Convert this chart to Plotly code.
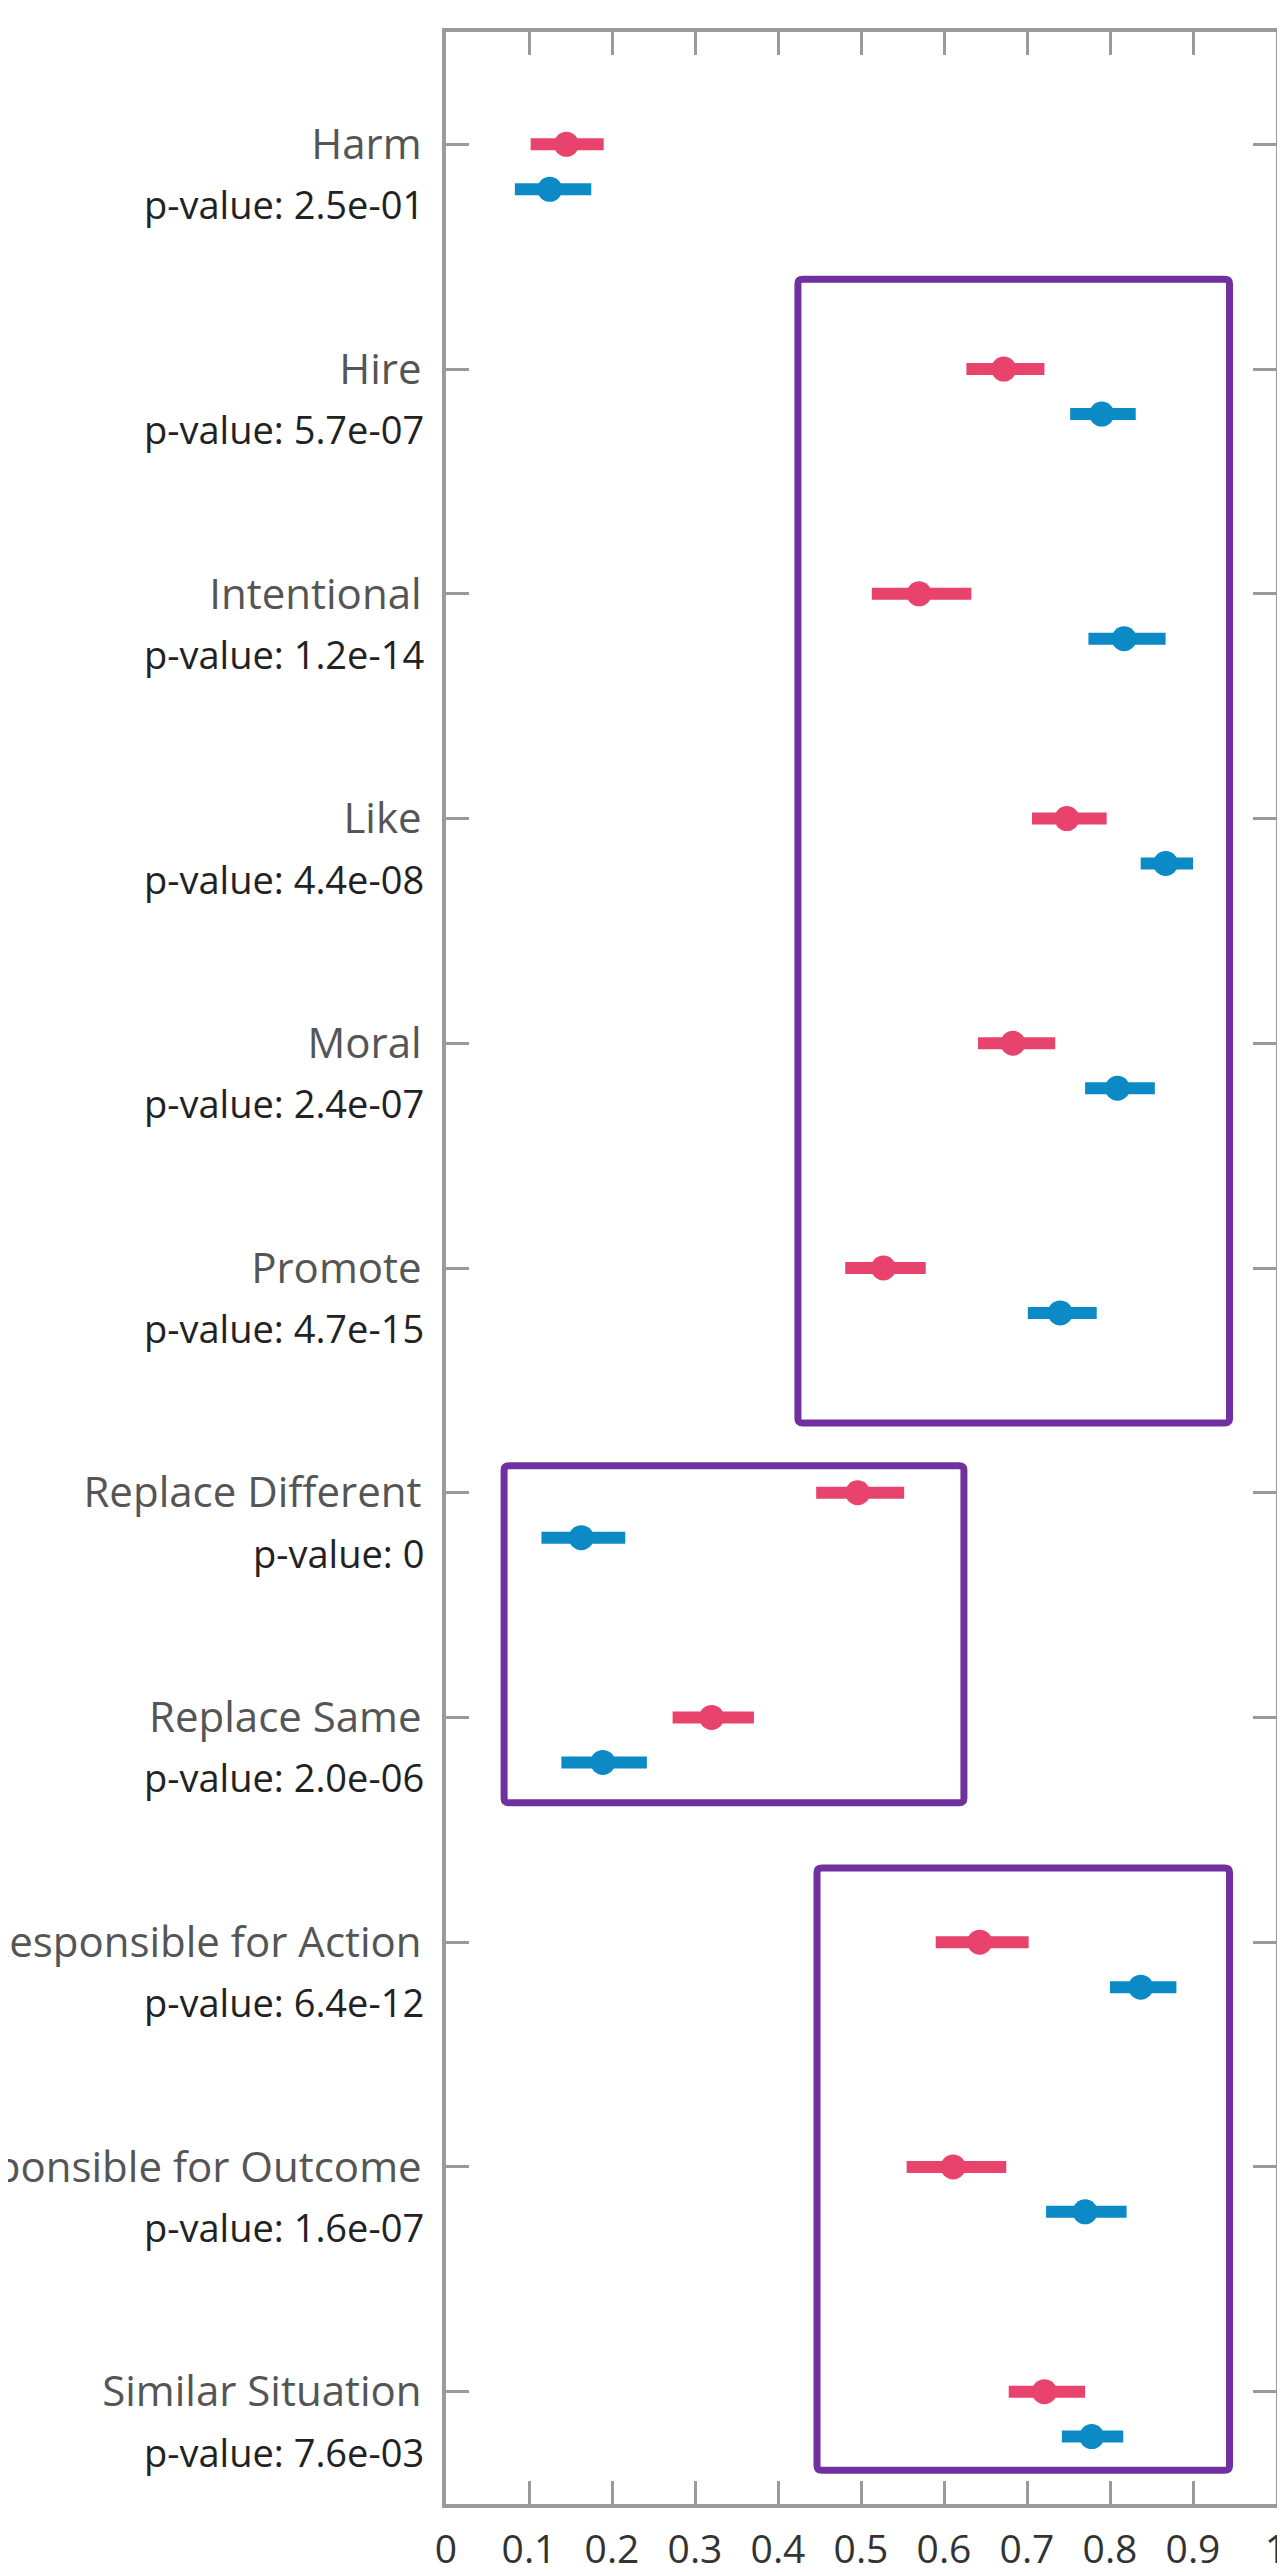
import plotly.graph_objects as go

# ---- data ----
categories = ["Harm", "Hire", "Intentional", "Like", "Moral", "Promote",
              "Replace Different", "Replace Same", "Responsible for Action",
              "Responsible for Outcome", "Similar Situation"]
p_values = ["2.5e-01", "5.7e-07", "1.2e-14", "4.4e-08", "2.4e-07", "4.7e-15",
            "0", "2.0e-06", "6.4e-12", "1.6e-07", "7.6e-03"]

red_mean = [0.145, 0.672, 0.570, 0.748, 0.683, 0.527, 0.496, 0.320, 0.643, 0.611, 0.721]
red_low  = [0.102, 0.627, 0.513, 0.706, 0.641, 0.481, 0.446, 0.273, 0.590, 0.555, 0.678]
red_high = [0.190, 0.721, 0.633, 0.796, 0.734, 0.578, 0.552, 0.371, 0.702, 0.675, 0.770]

blue_mean = [0.125, 0.790, 0.817, 0.867, 0.809, 0.740, 0.163, 0.189, 0.837, 0.770, 0.778]
blue_low  = [0.083, 0.752, 0.774, 0.837, 0.770, 0.701, 0.115, 0.139, 0.800, 0.723, 0.742]
blue_high = [0.175, 0.831, 0.867, 0.900, 0.854, 0.784, 0.216, 0.242, 0.880, 0.820, 0.816]

x_ticks = [0, 0.1, 0.2, 0.3, 0.4, 0.5, 0.6, 0.7, 0.8, 0.9, 1]
x_tick_labels = ["0", "0.1", "0.2", "0.3", "0.4", "0.5", "0.6", "0.7", "0.8", "0.9", "1"]

RED = "#E8436C"
BLUE = "#0B8AC6"
PURPLE = "#7030A0"
AXIS = "#9a9a9a"
FONT = "Open Sans"

idx = list(range(len(categories)))
blue_offset = 0.2

fig = go.Figure()

fig.add_trace(go.Scatter(
    x=red_mean, y=idx, mode="markers",
    marker=dict(color=RED, size=25),
    error_x=dict(type="data", symmetric=False,
                 array=[h - m for h, m in zip(red_high, red_mean)],
                 arrayminus=[m - l for m, l in zip(red_mean, red_low)],
                 color=RED, thickness=12, width=0),
    showlegend=False, name="red"))

fig.add_trace(go.Scatter(
    x=blue_mean, y=[i + blue_offset for i in idx], mode="markers",
    marker=dict(color=BLUE, size=25),
    error_x=dict(type="data", symmetric=False,
                 array=[h - m for h, m in zip(blue_high, blue_mean)],
                 arrayminus=[m - l for m, l in zip(blue_mean, blue_low)],
                 color=BLUE, thickness=12, width=0),
    showlegend=False, name="blue"))

# purple highlight boxes (data coordinates), slightly rounded corners
boxes = [(0.424, 0.60, 0.944, 5.69), (0.070, 5.88, 0.624, 7.38), (0.447, 7.67, 0.944, 10.35)]
rx, ry = 0.006, 0.02


def rounded(x0, y0, x1, y1):
    return (f"M {x0+rx},{y0} L {x1-rx},{y0} Q {x1},{y0} {x1},{y0+ry} "
            f"L {x1},{y1-ry} Q {x1},{y1} {x1-rx},{y1} "
            f"L {x0+rx},{y1} Q {x0},{y1} {x0},{y1-ry} "
            f"L {x0},{y0+ry} Q {x0},{y0} {x0+rx},{y0} Z")


shapes = []
for x0, y0, x1, y1 in boxes:
    shapes.append(dict(type="path", xref="x", yref="y", path=rounded(x0, y0, x1, y1),
                       line=dict(color=PURPLE, width=7), fillcolor="rgba(0,0,0,0)", layer="above"))

annotations = []
for i, p in zip(idx, p_values):
    annotations.append(dict(x=0, y=i, xref="x", yref="y", text="p-value: " + p,
                            showarrow=False, xanchor="right", yanchor="middle",
                            xshift=-20, yshift=-60,
                            font=dict(family=FONT, size=38, color="#222222")))

fig.update_layout(
    width=1285, height=2572,
    margin=dict(l=438, r=6, t=24, b=65),
    paper_bgcolor="white", plot_bgcolor="white",
    shapes=shapes, annotations=annotations,
    font=dict(family=FONT),
)

fig.update_xaxes(
    range=[0, 1], tickvals=x_ticks, ticktext=x_tick_labels,
    showgrid=False, zeroline=False,
    showline=True, linecolor=AXIS, linewidth=4, mirror="ticks",
    ticks="inside", ticklen=23, tickwidth=3, tickcolor=AXIS,
    tickfont=dict(family=FONT, size=39, color="#333333"),
    ticklabelstandoff=8, ticklabeloverflow="allow",
)

fig.update_yaxes(
    range=[10.5, -0.5], tickvals=idx, ticktext=categories,
    showgrid=False, zeroline=False,
    showline=True, linecolor=AXIS, linewidth=4, mirror="ticks",
    ticks="inside", ticklen=23, tickwidth=3, tickcolor=AXIS,
    tickfont=dict(family=FONT, size=42, color="#555555"),
    automargin=False, ticklabelstandoff=12, ticklabeloverflow="allow",
)

fig.write_html("out.html")
